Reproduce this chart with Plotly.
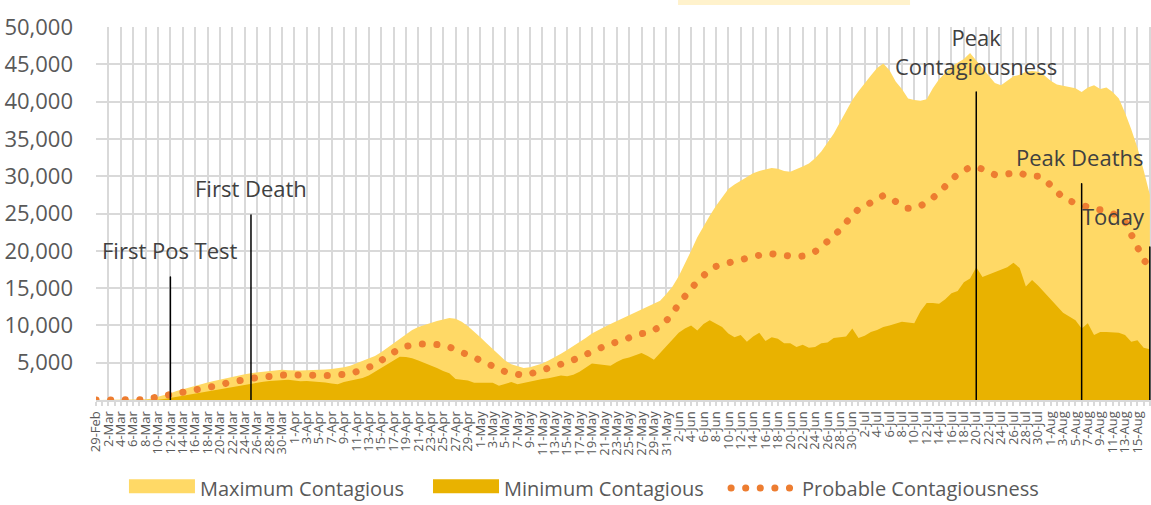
import pandas as pd
import plotly.graph_objects as go

# ---------------- data ----------------
start_date = "2020-02-29"
end_date = "2020-08-17"
dates = pd.date_range(start_date, end_date, freq="D")

max_contagious = [
    0, 0, 0, 0, 0, 0, 0, 0, 80, 200,
    400, 650, 900, 1200, 1450, 1700, 1950, 2150, 2350, 2550,
    2750, 2950, 3150, 3300, 3450, 3600, 3700, 3800, 3900, 3950,
    4050, 4000, 3950, 3950, 4000, 4000, 4050, 4100, 4150, 4250,
    4400, 4600, 4900, 5200, 5500, 5900, 6400, 7000, 7700, 8300,
    8900, 9400, 9800, 10100, 10400, 10600, 10800, 11000, 10900, 10500,
    9900, 9200, 8400, 7600, 6800, 6000, 5300, 4800, 4500, 4300,
    4400, 4600, 4900, 5300, 5700, 6200, 6700, 7200, 7700, 8300,
    8900, 9400, 9800, 10200, 10600, 11000, 11400, 11800, 12100, 12500,
    12900, 13300, 14200, 15200, 16600, 18200, 20000, 21800, 23300, 24700,
    26000, 27200, 28300, 28900, 29400, 30000, 30400, 30700, 30900, 31100,
    31000, 30700, 30600, 30900, 31300, 31700, 32400, 33300, 34500, 35700,
    37200, 38800, 40200, 41400, 42500, 43500, 44500, 45100, 44200, 42700,
    41700, 40400, 40200, 40100, 40300, 41800, 43000, 43800, 44700, 45200,
    45700, 46500, 45500, 44600, 43500, 42500, 42200, 42800, 43400, 43600,
    44000, 44100, 44000, 43500, 42800, 42300, 42100, 42000, 41800, 41300,
    41900, 42200, 41700, 41900, 41300, 40400, 38500, 36300, 33800, 30800,
    27500,
]

min_contagious = [
    0, 0, 0, 0, 0, 0, 0, 0, 0, 0,
    50, 150, 300, 450, 600, 750, 900, 1050, 1200, 1350,
    1500, 1650, 1800, 1950, 2100, 2200, 2350, 2450, 2550, 2600,
    2650, 2700, 2600, 2500, 2550, 2500, 2450, 2350, 2200, 2100,
    2400, 2550, 2700, 2950, 3300, 3800, 4300, 4900, 5400, 5800,
    5750, 5600, 5300, 5000, 4700, 4300, 3900, 3600, 2800, 2700,
    2600, 2300, 2300, 2350, 2300, 1900, 2200, 2400, 2100, 2300,
    2500, 2600, 2800, 2900, 3100, 3300, 3200, 3400, 3800, 4300,
    4900, 4800, 4700, 4600, 5100, 5500, 5700, 6000, 6300, 5900,
    5400, 6300, 7200, 8200, 9000, 9600, 10000, 9300, 10200, 10700,
    10300, 9800, 8900, 8400, 8700, 7800, 8500, 9000, 7900, 8400,
    8200, 7600, 7600, 7100, 7400, 7000, 7100, 7600, 7700, 8300,
    8400, 8500, 9600, 8300, 8600, 9100, 9400, 9800, 10000, 10300,
    10500, 10400, 10300, 11900, 13000, 13000, 12900, 13500, 14300, 14600,
    15800, 16300, 17800, 16500, 16800, 17200, 17400, 17800, 18400, 17700,
    15200, 16100, 15300, 14400, 13400, 12500, 11700, 11200, 10700, 9600,
    10300, 8700, 9100, 9100, 9000, 9000, 8700, 7800, 8000, 7000,
    6800,
]

probable_contagiousness = [
    0, 0, 0, 0, 0, 0, 0, 0, 50, 250,
    400, 500, 600, 750, 900, 1150, 1400, 1550, 1650, 1750,
    2000, 2250, 2450, 2650, 2800, 2900, 3000, 3100, 3200, 3300,
    3350, 3400, 3350, 3300, 3300, 3300, 3300, 3300, 3300, 3300,
    3300, 3500, 3800, 4100, 4400, 4700, 5300, 5900, 6400, 6900,
    7200, 7400, 7500, 7500, 7500, 7500, 7400, 7100, 6800, 6500,
    6100, 5700, 5300, 4900, 4400, 4000, 3800, 3600, 3400, 3300,
    3500, 3800, 4000, 4200, 4500, 4800, 5000, 5400, 5800, 6200,
    6600, 6900, 7200, 7500, 7800, 8100, 8500, 8800, 8900, 9000,
    9300, 9800, 10600, 11700, 12900, 14000, 15000, 15800, 16700, 17500,
    17900, 18200, 18400, 18600, 18800, 19000, 19200, 19500, 19600, 19600,
    19500, 19300, 19200, 19200, 19300, 19500, 19900, 20500, 21200, 22000,
    22800, 23800, 24800, 25600, 26000, 26400, 26900, 27400, 27200, 26500,
    26000, 25700, 25700, 26000, 26500, 27100, 27800, 28500, 29500, 30300,
    30800, 31200, 31300, 30900, 30400, 30200, 30200, 30300, 30600, 30500,
    30100, 30000, 30000, 29600, 28700, 27900, 27100, 26700, 26400, 26000,
    25700, 25600, 25500, 25300, 25000, 24600, 23900, 22200, 20500, 18800,
    17800,
]

event_labels = ["First Pos Test", "First Death", "Peak<br>Contagiousness", "Peak Deaths", "Today"]
event_dates = ["2020-03-12", "2020-03-25", "2020-07-20", "2020-08-06", "2020-08-17"]
event_heights = [16500, 24800, 41300, 29000, 20500]

y_ticks = [5000, 10000, 15000, 20000, 25000, 30000, 35000, 40000, 45000, 50000]

# ---------------- styling ----------------
FONT = "Open Sans"
C_MAX = "#FFD966"
C_MIN = "#E9B200"
C_PROB = "#ED7D31"
C_GRID = "#D9D9D9"
C_TEXT = "#595959"
C_ANN = "#404040"

fig = go.Figure()

fig.add_trace(go.Scatter(
    x=dates, y=max_contagious, name="Maximum Contagious", legend="legend",
    mode="lines", fill="tozeroy", fillcolor=C_MAX,
    line=dict(width=0, color=C_MAX), hoverinfo="skip",
))
fig.add_trace(go.Scatter(
    x=dates, y=min_contagious, name="Minimum Contagious", legend="legend2",
    mode="lines", fill="tozeroy", fillcolor=C_MIN,
    line=dict(width=0, color=C_MIN), hoverinfo="skip",
))
fig.add_trace(go.Scatter(
    x=dates, y=probable_contagiousness, name="Probable Contagiousness", legend="legend3",
    mode="lines", line=dict(width=7, color=C_PROB, dash="0.1px,14.5px"),
    hoverinfo="skip",
))

# event marker lines
ex, ey = [], []
for d, h in zip(event_dates, event_heights):
    ex += [d, d, None]
    ey += [0, h, None]
fig.add_trace(go.Scatter(
    x=ex, y=ey, mode="lines", line=dict(color="#000000", width=1.5),
    showlegend=False, hoverinfo="skip",
))

# event labels
label_shift = {"Today": -36, "Peak Deaths": -2}
label_gap = {"Peak<br>Contagiousness": 9, "Today": 14}
for lab, d, h in zip(event_labels, event_dates, event_heights):
    fig.add_annotation(
        x=d, y=h, text=lab, showarrow=False, xref="x", yref="y",
        yanchor="bottom", xanchor="center",
        xshift=label_shift.get(lab, 0), yshift=label_gap.get(lab, 10),
        font=dict(family=FONT, size=22, color=C_ANN),
    )

# faint title placeholder box at the top
fig.add_shape(type="rect", xref="paper", yref="paper",
              x0=0.5517, x1=0.7716, y0=1.059, y1=1.08,
              fillcolor="#FFF2CC", line=dict(width=0), layer="below")

legend_common = dict(orientation="h", xanchor="left", y=-0.236, yanchor="middle",
                     font=dict(size=20, color=C_TEXT), itemwidth=66,
                     bgcolor="rgba(0,0,0,0)")

fig.update_layout(
    width=1151, height=505,
    margin=dict(l=96, r=0, t=27, b=105, autoexpand=False),
    paper_bgcolor="white", plot_bgcolor="white",
    font=dict(family=FONT, color=C_TEXT),
    showlegend=True,
    legend=dict(x=0.0265, **legend_common),
    legend2=dict(x=0.3147, **legend_common),
    legend3=dict(x=0.5972, **legend_common),
    hovermode=False,
)

fig.update_xaxes(
    type="date",
    range=["2020-02-29", "2020-08-17 04:30"],
    tick0="2020-02-29", dtick=2 * 86400000, tickformat="%-d-%b",
    tickangle=-90, tickfont=dict(family=FONT, size=13, color=C_TEXT),
    showgrid=True, gridcolor=C_GRID, gridwidth=2,
    showline=True, linecolor=C_GRID, linewidth=2,
    ticks="outside", ticklen=4, tickcolor=C_GRID, tickwidth=2,
    minor=dict(dtick=86400000, ticks="outside", ticklen=4, tickcolor=C_GRID, tickwidth=2, showgrid=False),
    automargin=False, layer="below traces",
)
fig.update_yaxes(
    range=[0, 50000], tickvals=y_ticks, tickformat=",",
    tickfont=dict(family=FONT, size=22, color=C_TEXT),
    showgrid=True, gridcolor=C_GRID, gridwidth=2,
    zeroline=False, showline=False, ticks="", ticklabelstandoff=22,
    automargin=False,
)

post = """
var s = document.createElement('style');
s.innerHTML = 'html, body { margin: 0 !important; padding: 0 !important; overflow: hidden; } '
  + 'path.js-line { stroke-linecap: round; } '
  + 'g.legendfill path { transform: translateY(-4px) scaleY(2.33); }';
document.head.appendChild(s);
"""
fig.write_html("out.html", config={"displayModeBar": False}, post_script=post)
